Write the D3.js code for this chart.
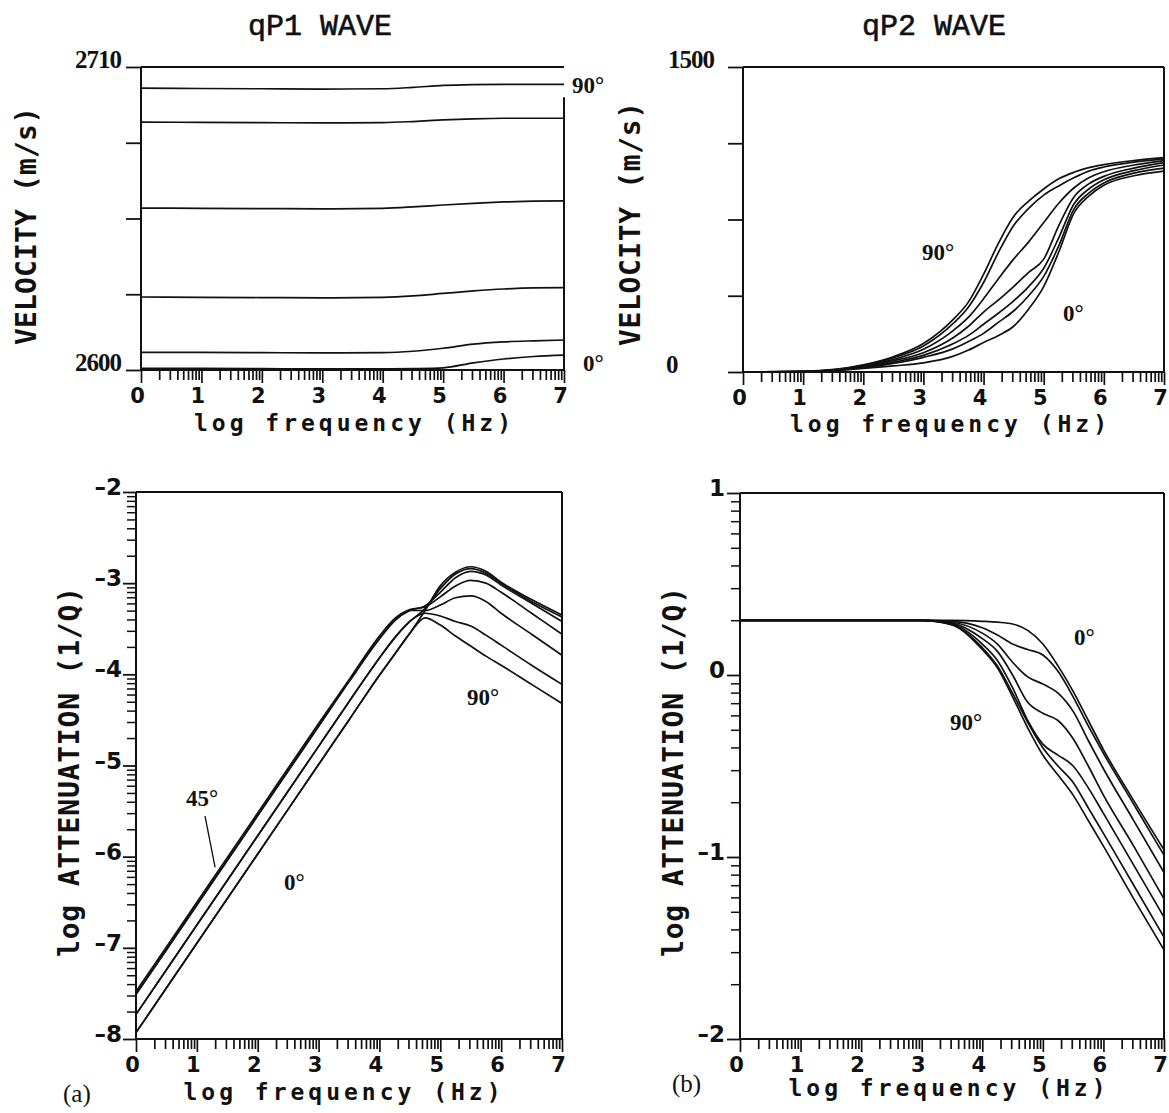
<!DOCTYPE html>
<html><head><meta charset="utf-8">
<script src="https://cdn.jsdelivr.net/npm/d3@7"></script>
<style>body{margin:0;background:#fff}svg{display:block}</style>
</head><body>
<svg id="c" width="1169" height="1113"></svg>
<script>
// ---------------- DATA ----------------
const angles = [0, 15, 30, 45, 60, 75, 90];
const xMajorTicks = [0, 1, 2, 3, 4, 5, 6, 7];

// qP1 velocity (m/s), 6 visible curves from 90° (top) to 0° (bottom)
const qp1VelX = [0, 1, 2, 3, 4, 4.5, 5, 5.5, 6, 6.5, 7];
const qp1Vel90 = [2702.3, 2702.2, 2702.1, 2702.0, 2702.1, 2702.6, 2703.3, 2703.6, 2703.7, 2703.7, 2703.7];
const qp1Vel72 = [2690.0, 2689.9, 2689.8, 2689.7, 2689.8, 2690.2, 2690.8, 2691.2, 2691.4, 2691.4, 2691.4];
const qp1Vel54 = [2658.8, 2658.7, 2658.6, 2658.5, 2658.7, 2659.2, 2659.9, 2660.5, 2661.0, 2661.3, 2661.4];
const qp1Vel36 = [2626.5, 2626.4, 2626.3, 2626.2, 2626.4, 2626.9, 2627.8, 2628.7, 2629.4, 2629.8, 2629.9];
const qp1Vel18 = [2606.4, 2606.4, 2606.3, 2606.2, 2606.3, 2606.8, 2607.9, 2609.4, 2610.2, 2610.6, 2610.9];
const qp1Vel0  = [2600.6, 2600.6, 2600.5, 2600.4, 2600.4, 2600.5, 2600.8, 2602.6, 2604.0, 2604.9, 2605.4];
const qp1VelTicks = [2600, 2627.5, 2655, 2682.5, 2710];
const qp1VelLabels = ["2600", "2710"];

// qP2 velocity (m/s)
const qp2VelX = [0, 1, 2, 2.5, 3, 3.5, 3.75, 4, 4.25, 4.5, 4.75, 5, 5.25, 5.5, 5.75, 6, 6.5, 7];
const qp2Vel90 = [0, 3, 35, 75, 140, 260, 345, 480, 635, 765, 840, 900, 950, 982, 1005, 1020, 1040, 1054];
const qp2Vel75 = [0, 3, 32, 70, 128, 240, 320, 440, 590, 720, 805, 870, 915, 955, 988, 1008, 1032, 1048];
const qp2Vel60 = [0, 2, 28, 62, 112, 205, 270, 360, 460, 555, 640, 735, 830, 905, 955, 985, 1018, 1040];
const qp2Vel45 = [0, 2, 25, 55, 95, 170, 225, 295, 355, 420, 490, 555, 720, 860, 925, 962, 1003, 1030];
const qp2Vel30 = [0, 2, 22, 48, 82, 140, 180, 235, 290, 350, 420, 510, 660, 825, 900, 945, 990, 1018];
const qp2Vel15 = [0, 2, 20, 42, 72, 115, 150, 190, 245, 300, 375, 470, 620, 800, 880, 930, 978, 1003];
const qp2Vel0  = [0, 2, 18, 30, 45, 78, 108, 145, 180, 225, 310, 420, 590, 780, 865, 918, 965, 988];
const qp2VelTicks = [0, 375, 750, 1125, 1500];
const qp2VelLabels = ["0", "1500"];

// qP1 log attenuation
const qp1AttX = [0, 1, 2, 3, 3.5, 4, 4.25, 4.5, 4.75, 5, 5.25, 5.5, 5.75, 6, 6.5, 7];
const qp1Att0  = [-7.93, -6.95, -5.97, -4.99, -4.50, -4.01, -3.78, -3.55, -3.30, -3.03, -2.88, -2.82, -2.87, -2.99, -3.18, -3.35];
const qp1Att15 = [-7.73, -6.75, -5.77, -4.79, -4.30, -3.82, -3.60, -3.42, -3.28, -3.06, -2.90, -2.84, -2.89, -3.00, -3.20, -3.37];
const qp1Att30 = [-7.51, -6.53, -5.55, -4.57, -4.08, -3.61, -3.41, -3.30, -3.25, -3.10, -2.94, -2.87, -2.91, -3.02, -3.22, -3.42];
const qp1Att45 = [-7.48, -6.50, -5.52, -4.54, -4.06, -3.58, -3.39, -3.29, -3.26, -3.15, -3.03, -2.97, -3.00, -3.10, -3.33, -3.56];
const qp1Att60 = [-7.51, -6.53, -5.55, -4.57, -4.08, -3.61, -3.41, -3.30, -3.30, -3.24, -3.16, -3.14, -3.20, -3.33, -3.56, -3.79];
const qp1Att75 = [-7.73, -6.75, -5.77, -4.79, -4.30, -3.82, -3.60, -3.42, -3.33, -3.36, -3.42, -3.47, -3.57, -3.68, -3.90, -4.11];
const qp1Att90 = [-7.93, -6.95, -5.97, -4.99, -4.50, -4.01, -3.78, -3.55, -3.38, -3.46, -3.58, -3.69, -3.80, -3.90, -4.11, -4.32];
const qp1AttTicks = [-8, -7, -6, -5, -4, -3, -2];

// qP2 log attenuation
const qp2AttX = [0, 1, 2, 3, 3.5, 4, 4.25, 4.5, 4.75, 5, 5.25, 5.5, 5.75, 6, 6.5, 7];
const qp2Att0  = [0.30, 0.30, 0.30, 0.30, 0.30, 0.295, 0.29, 0.28, 0.245, 0.17, 0.05, -0.09, -0.25, -0.41, -0.69, -0.96];
const qp2Att15 = [0.30, 0.30, 0.30, 0.30, 0.295, 0.26, 0.22, 0.17, 0.14, 0.11, 0.02, -0.12, -0.28, -0.43, -0.71, -0.99];
const qp2Att30 = [0.30, 0.30, 0.30, 0.30, 0.29, 0.23, 0.17, 0.07, -0.01, -0.05, -0.10, -0.20, -0.36, -0.515, -0.80, -1.085];
const qp2Att45 = [0.30, 0.30, 0.30, 0.30, 0.285, 0.20, 0.13, 0.00, -0.15, -0.21, -0.25, -0.35, -0.50, -0.66, -0.94, -1.23];
const qp2Att60 = [0.30, 0.30, 0.30, 0.30, 0.28, 0.17, 0.08, -0.07, -0.25, -0.38, -0.44, -0.50, -0.62, -0.76, -1.045, -1.33];
const qp2Att75 = [0.30, 0.30, 0.30, 0.30, 0.277, 0.15, 0.05, -0.10, -0.26, -0.40, -0.50, -0.59, -0.73, -0.87, -1.155, -1.44];
const qp2Att90 = [0.30, 0.30, 0.30, 0.30, 0.275, 0.14, 0.04, -0.12, -0.29, -0.44, -0.55, -0.66, -0.80, -0.94, -1.23, -1.51];
const qp2AttTicks = [-2, -1, 0, 1];

// ---------------- DRAWING ----------------
const svg = d3.select('#c');
const INK = '#111';
const tickFont = 'DejaVu Sans, sans-serif';
const monoFont = 'DejaVu Sans Mono, monospace';
const serif = 'Liberation Serif, Times New Roman, serif';

function minorLogTicks(lo, hi) {
  const out = [];
  for (let n = lo; n < hi; n++) for (let k = 2; k <= 9; k++) out.push(n + Math.log10(k));
  return out;
}

function panel(cfg) {
  const g = svg.append('g');
  const x = d3.scaleLinear().domain([0, 7]).range([cfg.left, cfg.right]);
  const y = d3.scaleLinear().domain(cfg.ydom).range([cfg.bottom, cfg.top]);

  const xMinor = d3.axisBottom(x).tickValues(minorLogTicks(0, 7)).tickSize(10).tickFormat('');
  const gxm = g.append('g').attr('transform', `translate(0,${cfg.bottom})`).call(xMinor);
  const xMajor = d3.axisBottom(x).tickValues(xMajorTicks).tickSize(13).tickPadding(8).tickFormat(d3.format('d'));
  const gx = g.append('g').attr('transform', `translate(0,${cfg.bottom})`).call(xMajor);
  [gxm, gx].forEach(a => {
    a.select('.domain').remove();
    a.selectAll('line').attr('stroke', INK).attr('stroke-width', 1.7);
  });
  gx.selectAll('text').attr('font-family', tickFont).attr('font-weight', 'bold')
    .attr('font-size', 21).attr('fill', INK).attr('dx', -4).attr('dy', '0.55em');

  if (cfg.yMinor) {
    const yMinor = d3.axisLeft(y).tickValues(cfg.yMinor).tickSize(9).tickFormat('');
    const gym = g.append('g').attr('transform', `translate(${cfg.left},0)`).call(yMinor);
    gym.select('.domain').remove();
    gym.selectAll('line').attr('stroke', INK).attr('stroke-width', 1.5);
  }
  const yMajor = d3.axisLeft(y).tickValues(cfg.yticks).tickSize(cfg.ytickLen).tickFormat('');
  const gy = g.append('g').attr('transform', `translate(${cfg.left},0)`).call(yMajor);
  gy.select('.domain').remove();
  gy.selectAll('line').attr('stroke', INK).attr('stroke-width', 1.8);

  cfg.ylabels.forEach(l => {
    g.append('text').attr('x', l.x).attr('y', y(l.v) + (l.dy || 0))
      .attr('text-anchor', l.anchor).attr('font-family', l.font)
      .attr('font-weight', 'bold').attr('font-size', l.size).attr('fill', INK)
      .attr('letter-spacing', l.ls || 0).text(l.t);
  });

  g.append('path').attr('fill', 'none').attr('stroke', INK).attr('stroke-width', 2)
    .attr('d', `M${x(0)},${y(cfg.ydom[1])}H${x(7)}` +
      `M${x(7)},${y(cfg.rightTop !== undefined ? cfg.rightTop : cfg.ydom[1])}V${y(cfg.ydom[0])}` +
      `M${x(0)},${y(cfg.ydom[1])}V${y(cfg.ydom[0])}H${x(7)}`);

  const line = d3.line().x(d => x(d[0])).y(d => y(d[1])).curve(d3.curveMonotoneX);
  cfg.series.forEach(s => {
    g.append('path').datum(cfg.xs.map((xv, i) => [xv, s[i]]))
      .attr('fill', 'none').attr('stroke', INK).attr('stroke-width', 1.7)
      .attr('stroke-linejoin', 'round').attr('d', line);
  });

  cfg.notes.forEach(n => {
    g.append('text').attr('x', n.x).attr('y', n.y).attr('font-family', serif)
      .attr('font-weight', 'bold').attr('font-size', 23).attr('fill', INK).text(n.t);
  });

  g.append('text').attr('x', (cfg.left + cfg.right) / 2 + cfg.xtDx).attr('y', cfg.xtY)
    .attr('text-anchor', 'middle').attr('font-family', monoFont).attr('font-weight', 'bold')
    .attr('font-size', 23).attr('fill', INK).attr('textLength', 317).attr('lengthAdjust', 'spacing')
    .text('log frequency (Hz)');
  g.append('text').attr('transform', `translate(${cfg.ytX},${cfg.ytY}) rotate(-90)`)
    .attr('text-anchor', 'middle').attr('font-family', monoFont).attr('font-weight', 'bold')
    .attr('font-size', cfg.ytSize).attr('fill', INK).attr('textLength', cfg.ytLen).attr('lengthAdjust', 'spacing')
    .text(cfg.ytitle);
  return {x, y, g};
}

// Top-left: qP1 velocity
panel({
  left: 141, right: 564, top: 67, bottom: 370, ydom: [2600, 2710], rightTop: 2699,
  yticks: qp1VelTicks, ytickLen: 15,
  ylabels: [
    {t: qp1VelLabels[0], v: qp1VelTicks[0], x: 75, anchor: 'start', font: serif, size: 25, ls: -1, dy: 1},
    {t: qp1VelLabels[1], v: qp1VelTicks[4], x: 75, anchor: 'start', font: serif, size: 25, ls: -1, dy: 1}
  ],
  xs: qp1VelX, series: [qp1Vel90, qp1Vel72, qp1Vel54, qp1Vel36, qp1Vel18, qp1Vel0],
  notes: [{t: '90°', x: 572, y: 93}, {t: '0°', x: 583, y: 371}],
  xtY: 431, xtDx: 0, ytitle: 'VELOCITY (m/s)', ytX: 36, ytY: 226, ytSize: 28, ytLen: 238
});

// Top-right: qP2 velocity
panel({
  left: 743, right: 1164, top: 67, bottom: 372, ydom: [0, 1500],
  yticks: qp2VelTicks, ytickLen: 15,
  ylabels: [
    {t: qp2VelLabels[0], v: qp2VelTicks[0], x: 666, anchor: 'start', font: serif, size: 25, dy: 1},
    {t: qp2VelLabels[1], v: qp2VelTicks[4], x: 668, anchor: 'start', font: serif, size: 25, ls: -1, dy: 1}
  ],
  xs: qp2VelX, series: [qp2Vel90, qp2Vel75, qp2Vel60, qp2Vel45, qp2Vel30, qp2Vel15, qp2Vel0],
  notes: [{t: '90°', x: 922, y: 260}, {t: '0°', x: 1063, y: 321}],
  xtY: 432, xtDx: -5, ytitle: 'VELOCITY (m/s)', ytX: 640, ytY: 224, ytSize: 28, ytLen: 244
});

// Bottom-left: qP1 attenuation
const bl = panel({
  left: 136, right: 562, top: 492, bottom: 1039, ydom: [-8, -2],
  yticks: qp1AttTicks, ytickLen: 13, yMinor: minorLogTicks(-8, -2),
  ylabels: qp1AttTicks.map(v => ({t: String(v).replace('-', '\u2013'), v, x: 122, anchor: 'end', font: tickFont, size: 23, dy: 3})),
  xs: qp1AttX, series: [qp1Att0, qp1Att15, qp1Att30, qp1Att45, qp1Att60, qp1Att75, qp1Att90],
  notes: [{t: '45°', x: 186, y: 806}, {t: '0°', x: 284, y: 890}, {t: '90°', x: 467, y: 705}],
  xtY: 1100, xtDx: -7, ytitle: 'log ATTENUATION (1/Q)', ytX: 79, ytY: 772, ytSize: 28, ytLen: 370
});
bl.g.append('line').attr('x1', 205).attr('y1', 816)
  .attr('x2', bl.x(1.3)).attr('y2', bl.y(qp1Att45[1] + 0.3 * (qp1Att45[2] - qp1Att45[1])) - 8)
  .attr('stroke', INK).attr('stroke-width', 1.3);

// Bottom-right: qP2 attenuation
panel({
  left: 740, right: 1164, top: 493, bottom: 1039, ydom: [-2, 1],
  yticks: qp2AttTicks, ytickLen: 13, yMinor: minorLogTicks(-2, 1),
  ylabels: qp2AttTicks.map(v => ({t: String(v).replace('-', '\u2013'), v, x: 725, anchor: 'end', font: tickFont, size: 23, dy: 3})),
  xs: qp2AttX, series: [qp2Att0, qp2Att15, qp2Att30, qp2Att45, qp2Att60, qp2Att75, qp2Att90],
  notes: [{t: '0°', x: 1074, y: 645}, {t: '90°', x: 950, y: 730}],
  xtY: 1096, xtDx: -5, ytitle: 'log ATTENUATION (1/Q)', ytX: 683, ytY: 772, ytSize: 28, ytLen: 370
});

// Titles and panel letters
svg.append('text').attr('x', 320).attr('y', 35).attr('text-anchor', 'middle')
  .attr('font-family', 'Liberation Mono, monospace').attr('font-size', 30).attr('fill', INK)
  .attr('stroke', INK).attr('stroke-width', 0.6).text('qP1 WAVE');
svg.append('text').attr('x', 934).attr('y', 35).attr('text-anchor', 'middle')
  .attr('font-family', 'Liberation Mono, monospace').attr('font-size', 30).attr('fill', INK)
  .attr('stroke', INK).attr('stroke-width', 0.6).text('qP2 WAVE');
svg.append('text').attr('x', 63).attr('y', 1102).attr('font-family', serif).attr('font-size', 25).attr('fill', INK).text('(a)');
svg.append('text').attr('x', 672).attr('y', 1092).attr('font-family', serif).attr('font-size', 25).attr('fill', INK).text('(b)');
</script>
</body></html>
